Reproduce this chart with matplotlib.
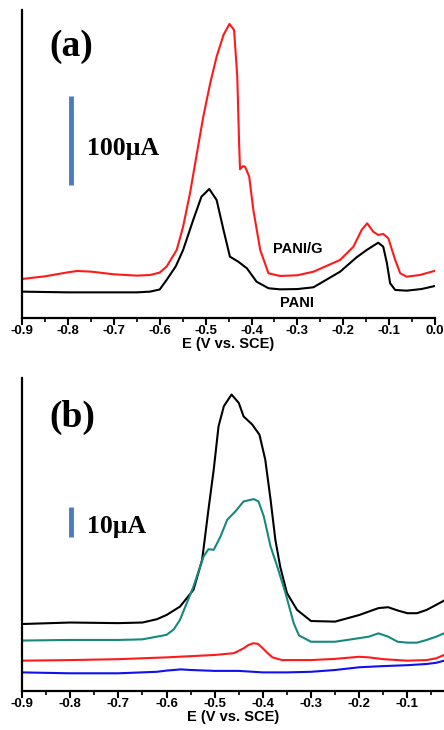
import matplotlib
matplotlib.use("Agg")
import matplotlib.pyplot as plt
from matplotlib.ticker import MultipleLocator, FormatStrFormatter

plt.rcParams['font.family'] = ['Liberation Sans', 'DejaVu Sans']
plt.rcParams['axes.unicode_minus'] = False

# ---- panel (a): PANI/G and PANI, current in uA ----
e_a_red = [-0.9, -0.85, -0.8, -0.78, -0.75, -0.7, -0.65, -0.621, -0.6, -0.585, -0.563,
           -0.549, -0.534, -0.519, -0.505, -0.49, -0.476, -0.461, -0.448, -0.438, -0.431,
           -0.427, -0.425, -0.419, -0.414, -0.405, -0.396, -0.381, -0.363, -0.338, -0.3,
           -0.265, -0.207, -0.178, -0.16, -0.148, -0.135, -0.124, -0.113, -0.102, -0.087,
           -0.076, -0.062, -0.033, 0.0]
i_a_red = [43.8, 46.8, 51.3, 52.8, 52.1, 49.1, 47.6, 48.3, 51.0, 57.7, 76.4,
           102.6, 140.1, 185.0, 226.2, 263.7, 293.6, 318.0, 330.3, 323.6, 271.1,
           196.3, 167.1, 170.5, 170.0, 158.8, 121.3, 76.4, 50.2, 47.2, 48.0,
           52.0, 65.2, 80.1, 98.9, 106.4, 97.0, 93.3, 94.4, 89.6, 65.2,
           50.2, 46.4, 48.3, 53.1]

e_a_blk = [-0.9, -0.8, -0.7, -0.65, -0.621, -0.6, -0.585, -0.565, -0.549, -0.527, -0.509,
           -0.492, -0.476, -0.461, -0.447, -0.429, -0.41, -0.389, -0.363, -0.338, -0.3,
           -0.265, -0.207, -0.171, -0.149, -0.124, -0.113, -0.105, -0.098, -0.087, -0.062,
           -0.03, 0.0]
i_a_blk = [29.6, 28.8, 28.8, 28.8, 29.6, 32.0, 42.7, 58.0, 76.4, 110.1, 136.3,
           144.9, 132.6, 98.9, 68.9, 63.3, 55.8, 40.8, 33.4, 32.2, 32.5,
           34.5, 52.0, 68.2, 76.4, 84.6, 80.1, 61.5, 39.0, 31.5, 30.7,
           32.5, 36.0]

# ---- panel (b): four curves, current in uA ----
e_b_blk = [-0.9, -0.8, -0.7, -0.65, -0.62, -0.6, -0.585, -0.572, -0.544, -0.526, -0.513,
           -0.502, -0.492, -0.481, -0.465, -0.45, -0.44, -0.422, -0.407, -0.395, -0.384,
           -0.374, -0.364, -0.35, -0.329, -0.3, -0.25, -0.2, -0.16, -0.14, -0.12, -0.1,
           -0.08, -0.06, -0.04, -0.024]
i_b_blk = [22.3, 22.8, 22.6, 22.8, 23.9, 25.3, 26.8, 28.1, 33.7, 43.7, 60.3,
           73.7, 88.1, 94.8, 98.7, 95.9, 91.4, 88.7, 85.3, 77.0, 63.7,
           50.3, 41.4, 32.6, 27.0, 23.3, 23.1, 25.3, 27.6, 27.9, 26.8, 25.9,
           25.9, 27.0, 28.7, 30.1]

e_b_teal = [-0.9, -0.8, -0.7, -0.65, -0.6, -0.585, -0.572, -0.544, -0.523, -0.513, -0.502,
            -0.488, -0.474, -0.457, -0.44, -0.419, -0.409, -0.398, -0.384, -0.37, -0.353,
            -0.336, -0.325, -0.3, -0.25, -0.2, -0.18, -0.16, -0.14, -0.12, -0.1, -0.08,
            -0.06, -0.04, -0.024]
i_b_teal = [16.8, 17.0, 17.0, 17.2, 18.7, 20.5, 23.7, 34.8, 44.8, 47.2, 47.0,
            51.4, 57.0, 59.8, 63.1, 63.9, 63.1, 58.1, 48.1, 41.4, 32.6,
            22.6, 18.5, 16.4, 16.4, 17.6, 18.1, 19.2, 18.1, 16.4, 16.1, 16.1,
            17.0, 18.1, 19.2]

e_b_red = [-0.9, -0.8, -0.7, -0.6, -0.5, -0.46, -0.44, -0.43, -0.42, -0.41, -0.4, -0.39,
           -0.38, -0.36, -0.3, -0.25, -0.2, -0.18, -0.15, -0.1, -0.06, -0.04, -0.024]
i_b_red = [10.1, 10.3, 10.6, 11.2, 12.0, 12.6, 14.2, 15.3, 15.9, 15.7, 14.2, 12.6,
           11.2, 10.3, 10.3, 10.7, 11.4, 11.2, 10.6, 10.1, 10.3, 10.9, 12.0]

e_b_blue = [-0.9, -0.8, -0.7, -0.62, -0.6, -0.57, -0.55, -0.5, -0.45, -0.4, -0.35, -0.3,
            -0.25, -0.2, -0.15, -0.1, -0.06, -0.04, -0.024]
i_b_blue = [6.2, 5.9, 5.9, 6.4, 6.8, 7.2, 7.0, 6.7, 6.7, 6.2, 6.2, 6.4,
            7.0, 7.9, 8.3, 8.6, 9.0, 9.4, 10.1]

fig = plt.figure(figsize=(4.44, 7.3), dpi=100)
ax1 = fig.add_axes([0.0495, 0.5644, 0.9305, 0.4219])
ax2 = fig.add_axes([0.0495, 0.0534, 0.9505, 0.4288])


def style(ax, xmax, ymax):
    ax.set_xlim(-0.9, xmax)
    ax.set_ylim(0, ymax)
    for s in ['top', 'right']:
        ax.spines[s].set_visible(False)
    for s in ['left', 'bottom']:
        ax.spines[s].set_linewidth(1.6)
    ax.set_yticks([])
    ax.xaxis.set_major_locator(MultipleLocator(0.1))
    ax.xaxis.set_minor_locator(MultipleLocator(0.05))
    ax.xaxis.set_major_formatter(FormatStrFormatter('%.1f'))
    ax.tick_params(axis='x', which='major', direction='out', length=5, width=1.5,
                   pad=0, labelsize=9.5)
    ax.tick_params(axis='x', which='minor', direction='out', length=3, width=1.2)
    for lab in ax.get_xticklabels():
        lab.set_fontweight('bold')
    ax.set_xlabel('E (V vs. SCE)', fontsize=10.5, fontweight='bold', labelpad=0)


style(ax1, 0.0, 346)
ax1.plot(e_a_red, i_a_red, color='#ff1a1a', lw=1.5)
ax1.plot(e_a_blk, i_a_blk, color='black', lw=1.5)
ax1.plot([-0.794, -0.794], [149.4, 249.4], color='#4a7ebb', lw=3.5, solid_capstyle='butt')
ax1.text(-0.758, 190.5, '100µA', fontsize=18.5, fontweight='bold', family='Liberation Serif',
         ha='left', va='center')
ax1.text(-0.84, 305, '(a)', fontsize=27, fontweight='bold', family='Liberation Serif',
         ha='left', va='center')
ax1.text(-0.299, 77.5, 'PANI/G', fontsize=10.5, fontweight='bold', ha='center', va='center')
ax1.text(-0.301, 16.9, 'PANI', fontsize=10.5, fontweight='bold', ha='center', va='center')

style(ax2, -0.024, 104.2)
ax2.plot(e_b_blk, i_b_blk, color='black', lw=1.5)
ax2.plot(e_b_teal, i_b_teal, color='#16897f', lw=1.5)
ax2.plot(e_b_red, i_b_red, color='#ff1a1a', lw=1.5)
ax2.plot(e_b_blue, i_b_blue, color='#1010ee', lw=1.5)
ax2.plot([-0.799, -0.799], [51.3, 61.3], color='#4a7ebb', lw=3.5, solid_capstyle='butt')
ax2.text(-0.765, 54.7, '10µA', fontsize=18.5, fontweight='bold', family='Liberation Serif',
         ha='left', va='center')
ax2.text(-0.843, 91.2, '(b)', fontsize=27, fontweight='bold', family='Liberation Serif',
         ha='left', va='center')

fig.savefig('out.png', dpi=100)
